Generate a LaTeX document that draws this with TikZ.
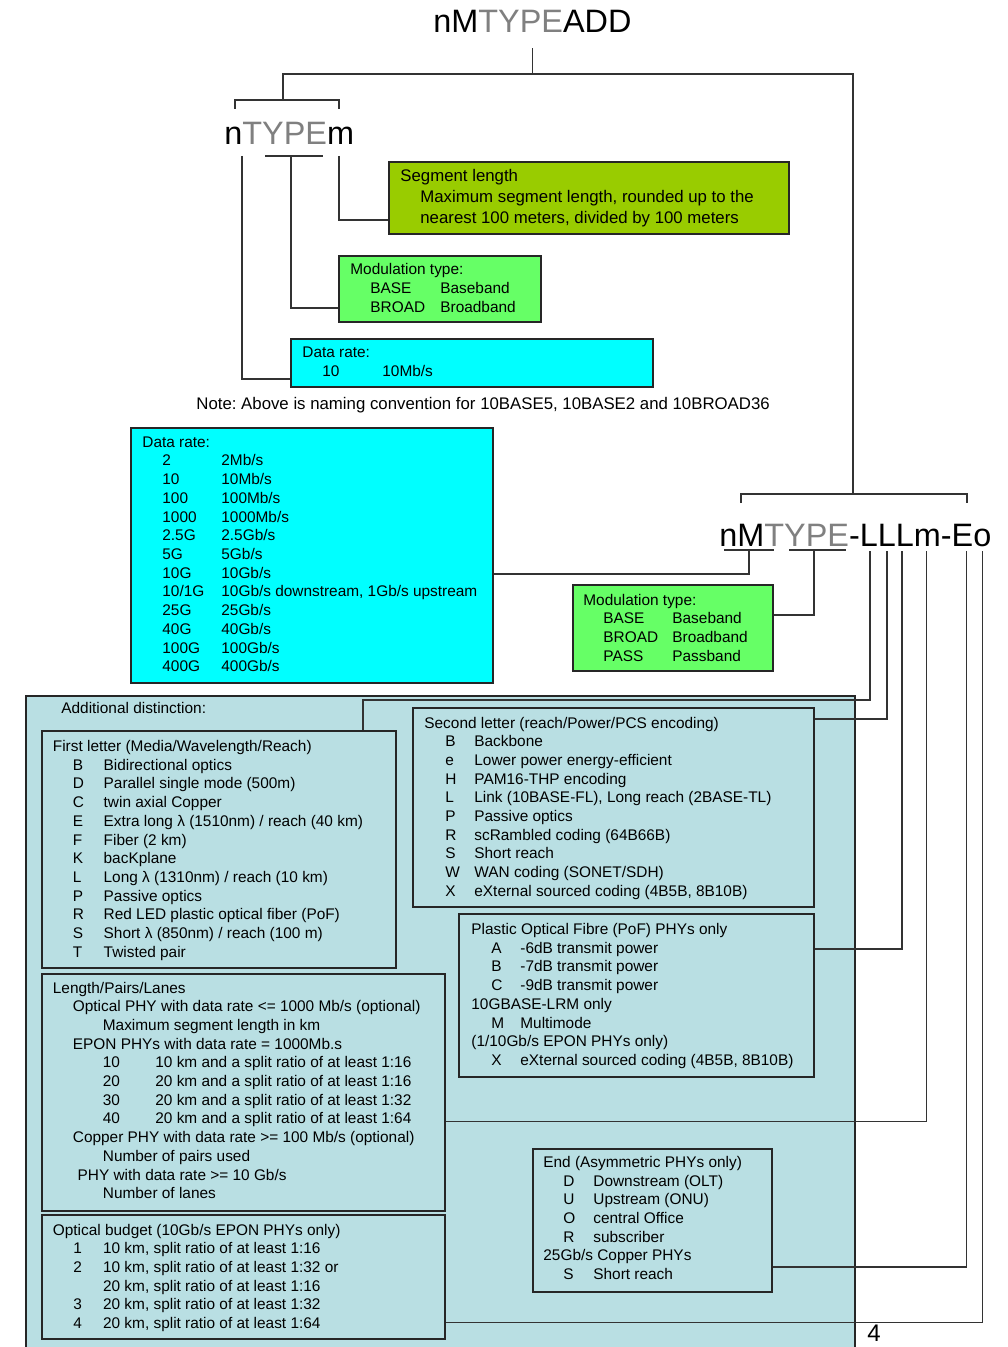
\documentclass[tikz,border=0pt]{standalone}
\usepackage{fontspec}
\setmainfont{Liberation Sans}
\usetikzlibrary{fit}
\frenchspacing

\definecolor{typegray}{RGB}{128,128,128}
\definecolor{segolive}{RGB}{153,204,0}
\definecolor{modgreen}{RGB}{102,255,102}
\definecolor{ratecyan}{RGB}{0,255,255}
\definecolor{distblue}{RGB}{185,223,227}

\newcommand{\namefont}{\fontsize{16.2}{19}\selectfont}
\newcommand{\listfont}{\fontsize{7.7}{9.35}\selectfont}
\newcommand{\notefont}{\fontsize{8.4}{10.3}\selectfont}
% one line of a list, set at its own indent
\newcommand{\ind}[2]{\multicolumn{2}{@{\hspace{#1}}l@{}}{#2}}

\begin{document}
\begin{tikzpicture}
  [x=0.5pt,y=-0.5pt,
   box/.style={draw=black!85,line width=0.7pt,inner sep=0pt},
   lines/.style={anchor=base west,inner sep=0pt,font=\listfont},
   codename/.style={anchor=base west,inner sep=0pt,font=\namefont},
   wire/.style={draw=black!80,line width=0.6pt}]
  \useasboundingbox (0,0) rectangle (1007,1347);

  % the three names
  \node[codename] (top) at (433,33) {nM\textcolor{typegray}{TYPE}ADD};
  \node[codename] (old) at (224,145) {n\textcolor{typegray}{TYPE}m};
  \node[codename] (new) at (719,546) {nM\textcolor{typegray}{TYPE}-LLLm-Eo};

  % boxes of the old name
  \node[box,fill=segolive,fit={(389,162) (789,234)}] (seg) {};
  \node[lines,font=\notefont] (segtxt) at (400,182)
    {\begin{tabular}[t]{@{}l@{}}
     Segment length\\
     \hspace*{10pt}Maximum segment length, rounded up to the\\
     \hspace*{10pt}nearest 100 meters, divided by 100 meters
     \end{tabular}};

  \node[box,fill=modgreen,fit={(339,256) (541,322)}] (mods) {};
  \node[lines] (modstxt) at (350,275)
    {\begin{tabular}[t]{@{\hspace{10pt}}p{35pt}@{}l@{}}
     \ind{0pt}{Modulation type:}\\
     BASE&Baseband\\
     BROAD&Broadband
     \end{tabular}};

  \node[box,fill=ratecyan,fit={(291,339) (653,387)}] (drs) {};
  \node[lines] (drstxt) at (302,358)
    {\begin{tabular}[t]{@{\hspace{10pt}}p{30pt}@{}l@{}}
     \ind{0pt}{Data rate:}\\
     10&10Mb/s
     \end{tabular}};

  \node[lines,font=\notefont] (note) at (196,409)
    {Note: Above is naming convention for 10BASE5, 10BASE2 and 10BROAD36};

  % boxes of the new name
  \node[box,fill=ratecyan,fit={(131,428) (493,683)}] (drb) {};
  \node[lines] (drbtxt) at (142,447.3)
    {\begin{tabular}[t]{@{\hspace{10pt}}p{29.5pt}@{}l@{}}
     \ind{0pt}{Data rate:}\\
     2&2Mb/s\\
     10&10Mb/s\\
     100&100Mb/s\\
     1000&1000Mb/s\\
     2.5G&2.5Gb/s\\
     5G&5Gb/s\\
     10G&10Gb/s\\
     10/1G&10Gb/s downstream, 1Gb/s upstream\\
     25G&25Gb/s\\
     40G&40Gb/s\\
     100G&100Gb/s\\
     400G&400Gb/s
     \end{tabular}};

  \node[box,fill=modgreen,fit={(573,585) (773,671)}] (modb) {};
  \node[lines] (modbtxt) at (583,605)
    {\begin{tabular}[t]{@{\hspace{10pt}}p{34.5pt}@{}l@{}}
     \ind{0pt}{Modulation type:}\\
     BASE&Baseband\\
     BROAD&Broadband\\
     PASS&Passband
     \end{tabular}};

  \node[box,fill=distblue,fit={(26,696) (855,1360)}] (dist) {};
  \node[lines] (disttxt) at (61,713.5) {Additional distinction:};

  \node[box,fill=distblue,fit={(42,731) (396,968)}] (fl) {};
  \node[lines] (fltxt) at (52.5,751.5)
    {\begin{tabular}[t]{@{\hspace{10pt}}p{15.4pt}@{}l@{}}
     \ind{0pt}{First letter (Media/Wavelength/Reach)}\\
     B&Bidirectional optics\\
     D&Parallel single mode (500m)\\
     C&twin axial Copper\\
     E&Extra long λ (1510nm) / reach (40 km)\\
     F&Fiber (2 km)\\
     K&bacKplane\\
     L&Long λ (1310nm) / reach (10 km)\\
     P&Passive optics\\
     R&Red LED plastic optical fiber (PoF)\\
     S&Short λ (850nm) / reach (100 m)\\
     T&Twisted pair
     \end{tabular}};

  \node[box,fill=distblue,fit={(413,708) (814,907)}] (sl) {};
  \node[lines] (sltxt) at (424,728)
    {\begin{tabular}[t]{@{\hspace{10.5pt}}p{14.5pt}@{}l@{}}
     \ind{0pt}{Second letter (reach/Power/PCS encoding)}\\
     B&Backbone\\
     e&Lower power energy-efficient\\
     H&PAM16-THP encoding\\
     L&Link (10BASE-FL), Long reach (2BASE-TL)\\
     P&Passive optics\\
     R&scRambled coding (64B66B)\\
     S&Short reach\\
     W&WAN coding (SONET/SDH)\\
     X&eXternal sourced coding (4B5B, 8B10B)
     \end{tabular}};

  \node[box,fill=distblue,fit={(459,914) (814,1077)}] (pof) {};
  \node[lines] (poftxt) at (471,934.5)
    {\begin{tabular}[t]{@{\hspace{10pt}}p{14.5pt}@{}l@{}}
     \ind{0pt}{Plastic Optical Fibre (PoF) PHYs only}\\
     A&-6dB transmit power\\
     B&-7dB transmit power\\
     C&-9dB transmit power\\
     \ind{0pt}{10GBASE-LRM only}\\
     M&Multimode\\
     \ind{0pt}{(1/10Gb/s EPON PHYs only)}\\
     X&eXternal sourced coding (4B5B, 8B10B)
     \end{tabular}};

  \node[box,fill=distblue,fit={(42,974) (445,1211)}] (lpl) {};
  \node[lines] (lpltxt) at (52.5,993)
    {\begin{tabular}[t]{@{\hspace{25pt}}p{26.25pt}@{}l@{}}
     \ind{0pt}{Length/Pairs/Lanes}\\
     \ind{10pt}{Optical PHY with data rate <= 1000 Mb/s (optional)}\\
     \ind{25pt}{Maximum segment length in km}\\
     \ind{10pt}{EPON PHYs with data rate = 1000Mb.s}\\
     10&10 km and a split ratio of at least 1:16\\
     20&20 km and a split ratio of at least 1:16\\
     30&20 km and a split ratio of at least 1:32\\
     40&20 km and a split ratio of at least 1:64\\
     \ind{10pt}{Copper PHY with data rate >= 100 Mb/s (optional)}\\
     \ind{25pt}{Number of pairs used}\\
     \ind{12.4pt}{PHY with data rate >= 10 Gb/s}\\
     \ind{25pt}{Number of lanes}
     \end{tabular}};

  \node[box,fill=distblue,fit={(42,1215) (445,1339)}] (ob) {};
  \node[lines] (obtxt) at (52.5,1235)
    {\begin{tabular}[t]{@{\hspace{10.25pt}}p{14.85pt}@{}l@{}}
     \ind{0pt}{Optical budget (10Gb/s EPON PHYs only)}\\
     1&10 km, split ratio of at least 1:16\\
     2&10 km, split ratio of at least 1:32 or\\
     &20 km, split ratio of at least 1:16\\
     3&20 km, split ratio of at least 1:32\\
     4&20 km, split ratio of at least 1:64
     \end{tabular}};

  \node[box,fill=distblue,fit={(533,1149) (772,1292)}] (endb) {};
  \node[lines] (endtxt) at (543,1167.3)
    {\begin{tabular}[t]{@{\hspace{10pt}}p{15pt}@{}l@{}}
     \ind{0pt}{End (Asymmetric PHYs only)}\\
     D&Downstream (OLT)\\
     U&Upstream (ONU)\\
     O&central Office\\
     R&subscriber\\
     \ind{0pt}{25Gb/s Copper PHYs}\\
     S&Short reach
     \end{tabular}};

  \node[codename,font=\fontsize{12}{14}\selectfont] (page) at (867,1341) {4};

  % tree between the names
  \draw[wire] ([yshift=-7.5pt]top.south) -- (top.south |- 0,74);
  \draw[wire] (283,100) |- (853,74) -- (853,494);
  \draw[wire] (235,109) |- (339,100) -- (339,109);
  \draw[wire] (741,503) |- (967,494) -- (967,503);

  % letters of the old name
  \draw[wire] (242,156) |- (drs.west |- 0,379);
  \draw[wire] (265,156) -- (323,156);
  \draw[wire] (291,156) |- (mods.west |- 0,308);
  \draw[wire] (339,156) |- (seg.west |- 0,220);

  % letters of the new name
  \draw[wire] (724,550) -- (774,550);
  \draw[wire] (749,550) |- (drb.east |- 0,574);
  \draw[wire] (789,550) -- (846,550);
  \draw[wire] (814,550) |- (modb.east |- 0,615);
  \draw[wire] (870,551) |- (363,700) -- (fl.north -| 363,0);
  \foreach \x/\y/\to in {887/719/sl,902/949/pof,926.5/1121.5/lpl,966.5/1267/endb,982.5/1322.5/ob}
  \draw[wire] (\x,551) |- (\to.east |- 0,\y);

\end{tikzpicture}
\end{document}
